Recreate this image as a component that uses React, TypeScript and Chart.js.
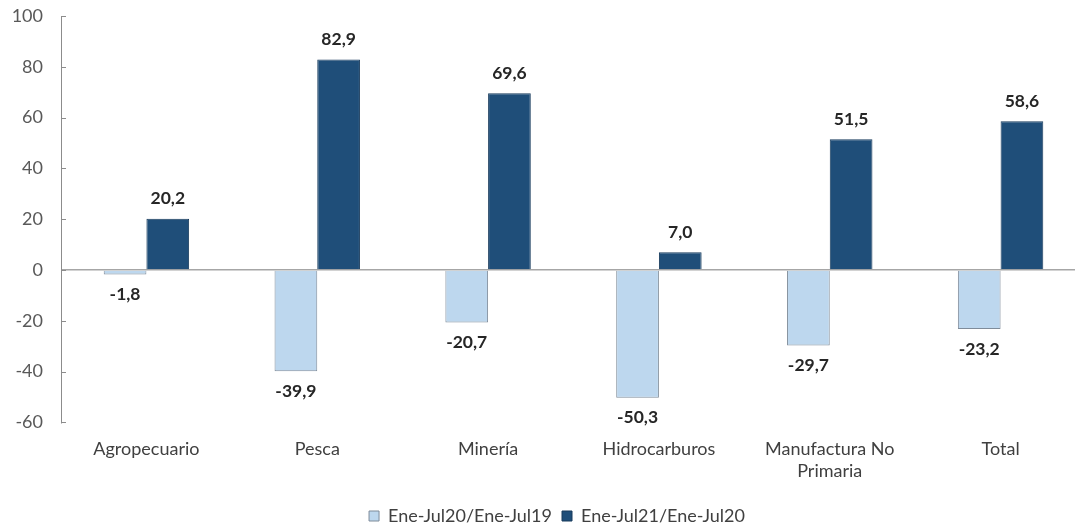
import React, { useEffect, useRef } from "react";
import { Chart, registerables } from "chart.js";

Chart.register(...registerables);

const categories: (string | string[])[] = [
  "Agropecuario",
  "Pesca",
  "Minería",
  "Hidrocarburos",
  ["Manufactura No", "Primaria"],
  "Total",
];
const seriesNames = ["Ene-Jul20/Ene-Jul19", "Ene-Jul21/Ene-Jul20"];
const series2020 = [-1.8, -39.9, -20.7, -50.3, -29.7, -23.2];
const series2021 = [20.2, 82.9, 69.6, 7.0, 51.5, 58.6];
const yTicks = { min: -60, max: 100, step: 20 };

const fmt = (v: number) => v.toFixed(1).replace(".", ",");

const labelPlugin = {
  id: "valueLabels",
  afterDatasetsDraw(chart: any) {
    const ctx = chart.ctx;
    ctx.save();
    ctx.font = "bold 17.5px Lato";
    ctx.fillStyle = "#262626";
    ctx.textAlign = "center";
    ctx.textBaseline = "middle";
    chart.data.datasets.forEach((ds: any, di: number) => {
      const meta = chart.getDatasetMeta(di);
      meta.data.forEach((bar: any, i: number) => {
        const v = ds.data[i];
        const y = v >= 0 ? bar.y - 20 : bar.y + 20;
        ctx.fillText(fmt(v), bar.x, y);
      });
    });
    ctx.restore();
  },
};

const tickPlugin = {
  id: "innerTicks",
  afterLayout(chart: any) {
    const lg = chart.legend;
    if (lg) {
      lg.left += 14;
      lg.right += 14;
    }
  },
  afterDraw(chart: any) {
    const ctx = chart.ctx;
    const ys = chart.scales.y;
    ctx.save();
    ctx.strokeStyle = "#8c8c8c";
    ctx.lineWidth = 1;
    ys.ticks.forEach((t: any) => {
      const y = Math.round(ys.getPixelForValue(t.value)) + 0.5;
      ctx.beginPath();
      ctx.moveTo(ys.right, y);
      ctx.lineTo(ys.right + 5, y);
      ctx.stroke();
    });
    ctx.restore();
  },
};

export default function App() {
  const ref = useRef<HTMLCanvasElement | null>(null);
  useEffect(() => {
    document.body.style.margin = "0";
    Chart.defaults.font.family = "Lato";
    const chart = new Chart(ref.current as HTMLCanvasElement, {
      type: "bar",
      data: {
        labels: categories,
        datasets: [
          {
            label: seriesNames[0],
            data: series2020,
            backgroundColor: "#bdd7ee",
            borderColor: "#7f8c9a",
            borderWidth: 1,
            categoryPercentage: 0.5,
            barPercentage: 1,
          },
          {
            label: seriesNames[1],
            data: series2021,
            backgroundColor: "#1f4e79",
            borderColor: "#183b5c",
            borderWidth: 1,
            categoryPercentage: 0.5,
            barPercentage: 1,
          },
        ],
      },
      options: {
        animation: false,
        responsive: false,
        maintainAspectRatio: false,
        layout: { padding: { left: 0, right: 4, top: 16, bottom: 0 } },
        plugins: {
          legend: {
            position: "bottom",
            labels: {
              boxWidth: 10,
              boxHeight: 10,
              padding: 10,
              color: "#404040",
              font: { size: 18, family: "Lato" },
            },
          },
          tooltip: { enabled: false },
        },
        scales: {
          x: {
            grid: { display: false, drawTicks: false },
            border: { display: false },
            ticks: {
              color: "#404040",
              font: { size: 18, family: "Lato" },
              padding: 16,
              maxRotation: 0,
              autoSkip: false,
            },
            afterFit: (s: any) => {
              s.height = 74.6;
            },
          },
          y: {
            min: yTicks.min,
            max: yTicks.max,
            ticks: {
              stepSize: yTicks.step,
              color: "#595959",
              font: { size: 18, family: "Lato" },
              padding: 18,
            },
            grid: {
              drawTicks: false,
              color: (c: any) => (c.tick && c.tick.value === 0 ? "#a6a6a6" : "rgba(0,0,0,0)"),
              lineWidth: 1.5,
            },
            border: { display: true, color: "#8c8c8c", width: 1 },
            afterFit: (s: any) => {
              s.width = 61;
              s.paddingTop = 0;
              s.paddingBottom = 0;
            },
          },
        },
      },
      plugins: [labelPlugin, tickPlugin],
    });
    return () => chart.destroy();
  }, []);
  return (
    <div style={{ position: "fixed", left: 0, top: 0, width: 1075, height: 531, overflow: "hidden", background: "#fff" }}>
      <canvas ref={ref} width={1090} height={535} style={{ width: 1090, height: 535, display: "block" }} />
    </div>
  );
}
